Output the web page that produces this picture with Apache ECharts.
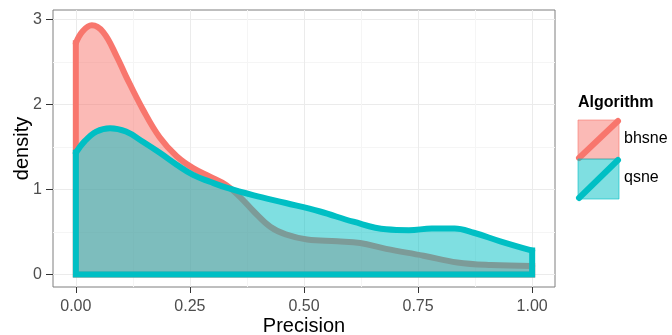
<!DOCTYPE html>
<html>
<head>
<meta charset="utf-8">
<script src="https://cdn.jsdelivr.net/npm/echarts@6/dist/echarts.min.js"></script>
<style>
html,body{margin:0;padding:0;background:#fff;}
#chart{width:672px;height:335px;}
</style>
</head>
<body>
<div id="chart"></div>
<script>
// ---- data ----
const bhsneX = [0, 0.015, 0.035, 0.06, 0.09, 0.11, 0.147, 0.184, 0.221, 0.257, 0.294, 0.33, 0.36, 0.39, 0.426, 0.46, 0.507, 0.573, 0.623, 0.68, 0.762, 0.836, 0.91, 1.0];
const bhsneY = [2.72, 2.86, 2.93, 2.85, 2.56, 2.33, 1.94, 1.61, 1.39, 1.25, 1.15, 1.05, 0.91, 0.74, 0.56, 0.47, 0.41, 0.39, 0.37, 0.30, 0.22, 0.14, 0.11, 0.10];
const qsneX = [0, 0.02, 0.045, 0.075, 0.11, 0.147, 0.184, 0.221, 0.257, 0.294, 0.33, 0.39, 0.46, 0.535, 0.608, 0.68, 0.73, 0.78, 0.83, 0.872, 0.93, 1.0];
const qsneY = [1.43, 1.57, 1.68, 1.72, 1.68, 1.56, 1.43, 1.29, 1.17, 1.09, 1.02, 0.93, 0.84, 0.74, 0.62, 0.53, 0.52, 0.54, 0.54, 0.49, 0.39, 0.28];
const algorithms = ['bhsne', 'qsne'];
const xTicks = [0, 0.25, 0.5, 0.75, 1];
const xMinor = [0.125, 0.375, 0.625, 0.875];
const yTicks = [0, 1, 2, 3];
const yMinor = [0.5, 1.5, 2.5];

const colors = {bhsne: '#F8766D', qsne: '#00BFC4'};
const fills = {bhsne: 'rgba(248,118,109,0.5)', qsne: 'rgba(0,191,196,0.5)'};
const FONT = "'Liberation Sans', Arial, Helvetica, sans-serif";

function pairs(xs, ys) { return xs.map((x, i) => [x, ys[i]]); }
function frame(xs, ys) {
  const n = xs.length - 1;
  return [[xs[0], ys[0]], [xs[0], 0], [xs[n], 0], [xs[n], ys[n]]];
}
const seriesData = {bhsne: [bhsneX, bhsneY], qsne: [qsneX, qsneY]};

const series = [];
algorithms.forEach((name, k) => {
  const [xs, ys] = seriesData[name];
  series.push({
    name: name, type: 'line', smooth: 0.4, symbol: 'none', z: 2 + k * 2,
    data: pairs(xs, ys),
    lineStyle: {color: colors[name], width: 6, cap: 'round', join: 'round'},
    areaStyle: {color: fills[name], opacity: 1},
    itemStyle: {color: colors[name]},
    silent: true, animation: false
  });
  series.push({
    name: name + '_frame', type: 'line', smooth: false, symbol: 'none', z: 3 + k * 2,
    data: frame(xs, ys),
    lineStyle: {color: colors[name], width: 6, cap: 'square', join: 'miter'},
    silent: true, animation: false
  });
});

const chart = echarts.init(document.getElementById('chart'), null, {renderer: 'canvas'});
const gridL = 53, gridT = 10, gridW = 502, gridH = 277;
chart.setOption({
  animation: false,
  backgroundColor: '#ffffff',
  grid: {left: gridL, top: gridT, width: gridW, height: gridH, show: true, outerBoundsMode: 'none',
         containLabel: false, borderColor: '#7f7f7f', borderWidth: 1, backgroundColor: 'transparent'},
  xAxis: [{
    type: 'value', min: -0.05, max: 1.05, position: 'bottom',
    name: 'Precision', nameLocation: 'middle', nameGap: 29, nameMoveOverlap: false,
    nameTextStyle: {fontFamily: FONT, fontSize: 20, color: '#000'},
    axisLine: {show: false, onZero: false},
    axisTick: {show: true, length: 6, customValues: xTicks, lineStyle: {color: '#333', width: 1}},
    axisLabel: {customValues: xTicks, formatter: v => v.toFixed(2), margin: 12,
                fontFamily: FONT, fontSize: 16, color: '#4d4d4d'},
    splitLine: {show: true, lineStyle: {color: '#ebebeb', width: 1}}
  }, {
    type: 'value', min: -0.05, max: 1.05, position: 'bottom',
    axisLine: {show: false, onZero: false}, axisLabel: {show: false},
    axisTick: {show: false, customValues: xMinor},
    splitLine: {show: true, lineStyle: {color: '#f5f5f5', width: 1}}
  }],
  yAxis: [{
    type: 'value', min: -0.148, max: 3.11, position: 'left',
    name: 'density', nameLocation: 'middle', nameGap: 21, nameRotate: 90, nameMoveOverlap: false,
    nameTextStyle: {fontFamily: FONT, fontSize: 20, color: '#000'},
    axisLine: {show: false, onZero: false},
    axisTick: {show: true, length: 7, customValues: yTicks, lineStyle: {color: '#333', width: 1}},
    axisLabel: {customValues: yTicks, margin: 11, fontFamily: FONT, fontSize: 16, color: '#4d4d4d'},
    splitLine: {show: true, lineStyle: {color: '#ebebeb', width: 1}}
  }, {
    type: 'value', min: -0.148, max: 3.11, position: 'left',
    axisLine: {show: false, onZero: false}, axisLabel: {show: false},
    axisTick: {show: false, customValues: yMinor},
    splitLine: {show: true, lineStyle: {color: '#f5f5f5', width: 1}}
  }],
  series: series,
  graphic: [
    {type: 'text', left: 578, top: 95, style: {text: 'Algorithm', font: 'bold 16px ' + FONT, fill: '#000'}},
    {type: 'rect', shape: {x: 578, y: 120, width: 41, height: 39},
     style: {fill: fills.bhsne, stroke: 'rgba(248,118,109,0.6)', lineWidth: 1}},
    {type: 'line', shape: {x1: 579, y1: 158, x2: 618, y2: 121},
     style: {stroke: colors.bhsne, lineWidth: 6, lineCap: 'round'}},
    {type: 'rect', shape: {x: 578, y: 159, width: 41, height: 40},
     style: {fill: fills.qsne, stroke: 'rgba(0,191,196,0.6)', lineWidth: 1}},
    {type: 'line', shape: {x1: 579, y1: 198, x2: 618, y2: 160},
     style: {stroke: colors.qsne, lineWidth: 6, lineCap: 'round'}},
    {type: 'text', left: 624, top: 131, style: {text: algorithms[0], font: '16px ' + FONT, fill: '#000'}},
    {type: 'text', left: 624, top: 170, style: {text: algorithms[1], font: '16px ' + FONT, fill: '#000'}}
  ]
});
</script>
</body>
</html>
